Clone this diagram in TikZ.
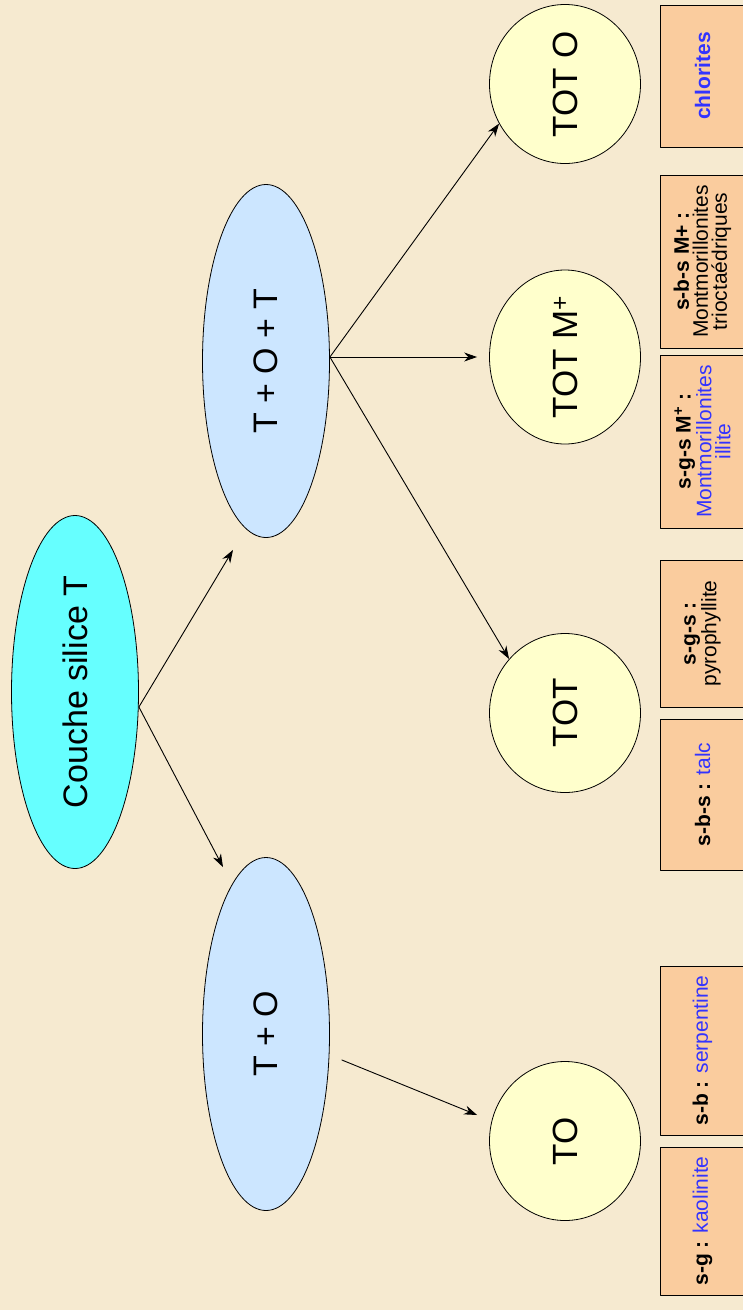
\documentclass[tikz,border=0pt]{standalone}
\usepackage{fontspec}
\setmainfont{Liberation Sans}
\usetikzlibrary{shapes.geometric,arrows.meta}
\definecolor{fond}{RGB}{246,234,208}
\definecolor{cyanT}{RGB}{102,255,255}
\definecolor{bleuT}{RGB}{204,230,255}
\definecolor{jauneT}{RGB}{255,255,204}
\definecolor{saumon}{RGB}{250,204,158}
\definecolor{bleuM}{RGB}{51,51,255}
\newcommand{\vtxt}[1]{\rotatebox{90}{#1}}
\begin{document}
\begin{tikzpicture}[x=1pt, y=-1pt, line join=round, line cap=round, >={Stealth[length=13pt,width=9pt]},
	couche/.style={ellipse, draw, line width=0.8pt, inner sep=0pt, minimum width=127pt, minimum height=353pt, font=\fontsize{34}{40}\selectfont},
	rond/.style={ellipse, draw, line width=0.8pt, fill=jauneT, inner sep=0pt, minimum width=151pt, minimum height=159pt, font=\fontsize{35}{40}\selectfont},
	boite/.style={rectangle, draw, line width=0.8pt, fill=saumon, rotate=90, inner sep=0pt, minimum height=85pt, align=center, font=\fontsize{21}{19}\selectfont},
	fleche/.style={->, line width=0.9pt}]
	\def\xb{702.5} % milieu des boites
	\fill[fond] (0,0) rectangle (743,1310);
	\useasboundingbox (0,0) rectangle (743,1310);
	% couches
	\node[couche, fill=cyanT] (silice) at (75,692) {\vtxt{Couche silice T}};
	\node[couche, fill=bleuT] (to) at (266,1034) {\vtxt{T + O}};
	\node[couche, fill=bleuT] (tot) at (266,361) {\vtxt{T + O + T}};
	% feuillets
	\node[rond] (rTO) at (565,1141) {\vtxt{TO}};
	\node[rond] (rTOT) at (565,713) {\vtxt{TOT}};
	\node[rond] (rTOTM) at (565,357) {\vtxt{TOT M\textsuperscript{+}}};
	\node[rond] (rTOTO) at (565,84) {\vtxt{TOT O}};
	% mineraux
	\node[boite, minimum width=148pt] (kao) at (\xb,1221) {\textbf{s-g :} \textcolor{bleuM}{kaolinite}};
	\node[boite, minimum width=169pt] (serp) at (\xb,1050.5) {\textbf{s-b :} \textcolor{bleuM}{serpentine}};
	\node[boite, minimum width=151pt] (talc) at (\xb,794.5) {\textbf{s-b-s :} \textcolor{bleuM}{talc}};
	\node[boite, minimum width=147pt] (pyro) at (\xb,633.5) {\textbf{s-g-s :}\\pyrophyllite};
	\node[boite, minimum width=173pt] (mont) at (\xb,441.5) {\textbf{s-g-s M\textsuperscript{+} :}\\\textcolor{bleuM}{Montmorillonites}\\\textcolor{bleuM}{illite}};
	\node[boite, minimum width=173pt] (trio) at (\xb,261.5) {\textbf{s-b-s M+ :}\\Montmorillonites\\trioctaédriques};
	\node[boite, minimum width=142pt] (chlo) at (\xb,76) {\textbf{\textcolor{bleuM}{chlorites}}};
	% fleches
	\draw[fleche] ([yshift=-15pt]silice.east) -- ([xshift=-33pt,yshift=-12pt]tot.south);
	\draw[fleche] ([yshift=-15pt]silice.east) -- ([xshift=-43pt,yshift=-10pt]to.north);
	\draw[fleche] ([xshift=12pt,yshift=-26pt]to.east) -- ([xshift=-12pt,yshift=26pt]rTO.west);
	\draw[fleche] ([yshift=4pt]tot.east) -- (rTOT.136);
	\draw[fleche] ([yshift=4pt]tot.east) -- ([xshift=-12pt]rTOTM.west);
	\draw[fleche] ([yshift=4pt]tot.east) -- (rTOTO.211);
\end{tikzpicture}
\end{document}
